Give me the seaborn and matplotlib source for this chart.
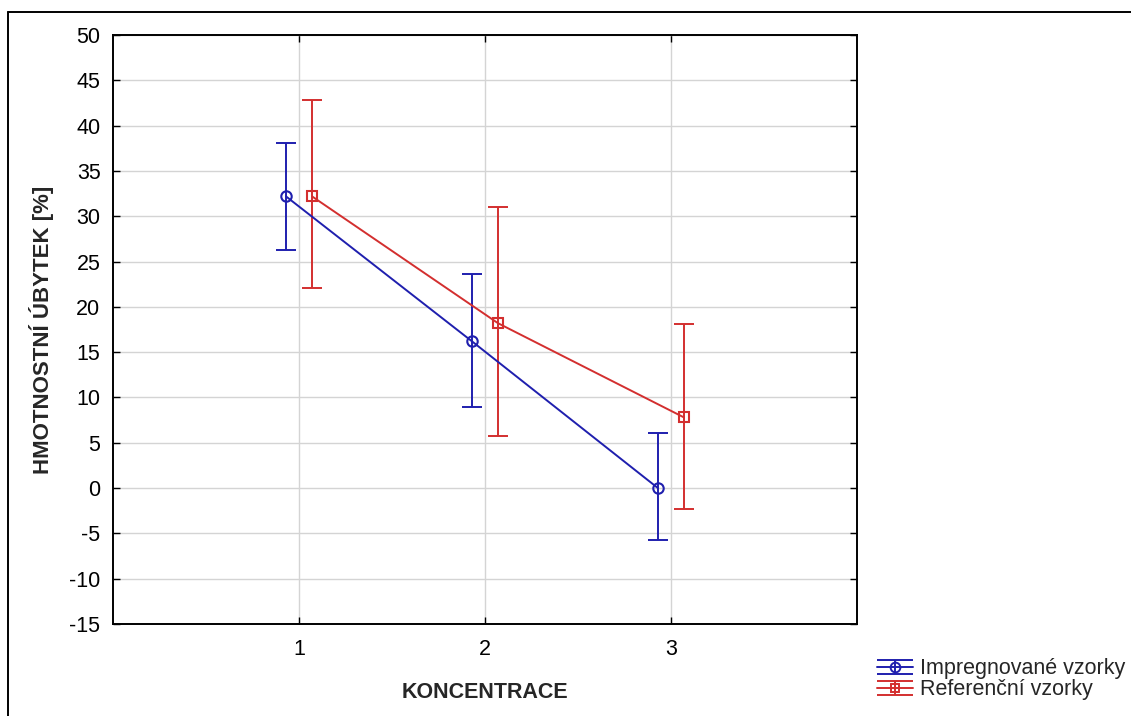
import numpy as np
import pandas as pd
import matplotlib
matplotlib.use('Agg')
import matplotlib.pyplot as plt
import seaborn as sns
from matplotlib.lines import Line2D
from matplotlib.legend_handler import HandlerErrorbar

# Values
koncentrace = [1, 2, 3]
impregnovane_mean = [32.2, 16.2, 0.0]
impregnovane_low = [26.3, 8.9, -5.7]
impregnovane_high = [38.1, 23.6, 6.1]
referencni_mean = [32.2, 18.2, 7.8]
referencni_low = [22.1, 5.7, -2.3]
referencni_high = [42.8, 31.0, 18.1]
series_names = ['Impregnované vzorky', 'Referenční vzorky']

sns.set_style('white')
plt.rcParams['font.family'] = ['Liberation Sans', 'DejaVu Sans']
plt.rcParams['axes.unicode_minus'] = False

blue = '#1f1fae'
red = '#d32f2f'
offset = 0.07

df = pd.DataFrame({
    'x': np.concatenate([np.array(koncentrace) - offset, np.array(koncentrace) + offset]),
    'y': impregnovane_mean + referencni_mean,
    'low': impregnovane_low + referencni_low,
    'high': impregnovane_high + referencni_high,
    'skupina': [series_names[0]] * 3 + [series_names[1]] * 3,
})

fig = plt.figure(figsize=(11.31, 7.16), dpi=100)
ax = fig.add_axes([0.0999, 0.1285, 0.6578, 0.8225])

ax.grid(True, color='#d4d4d4', linewidth=1.0)
ax.set_axisbelow(True)

handles = []
for name, color, marker, ms in [(series_names[0], blue, 'o', 7.5), (series_names[1], red, 's', 6.5)]:
    d = df[df['skupina'] == name]
    sns.lineplot(data=d, x='x', y='y', color=color, marker=marker, markersize=ms,
                 markerfacecolor='none', markeredgecolor=color, markeredgewidth=1.5,
                 linewidth=1.4, ax=ax, legend=False, zorder=3)
    err = np.vstack([d['y'] - d['low'], d['high'] - d['y']])
    ax.errorbar(d['x'], d['y'], yerr=err, fmt='none', ecolor=color,
                elinewidth=1.4, capsize=7, capthick=1.4, zorder=2)
    # legend glyph only (no data drawn)
    h = ax.errorbar([np.nan], [np.nan], yerr=[[1], [1]], fmt='-', color=color, marker=marker,
                    markersize=ms - 0.5, markerfacecolor='none', markeredgewidth=1.4,
                    linewidth=1.4, elinewidth=1.4, capsize=13, capthick=1.4)
    handles.append(h)

ax.set_xlim(0, 4)
ax.set_ylim(-15, 50)
ax.set_xticks(koncentrace)
ax.set_yticks(np.arange(-15, 51, 5))
ax.tick_params(direction='in', length=5, width=1, labelsize=15.5, colors='black',
               top=True, right=True, bottom=True, left=True)
ax.tick_params(axis='y', pad=9)
ax.tick_params(axis='x', pad=11)
for s in ax.spines.values():
    s.set_color('black')
    s.set_linewidth(1.4)

ax.set_xlabel('KONCENTRACE', fontsize=15.5, fontweight='bold', labelpad=16)
ax.set_ylabel('HMOTNOSTNÍ ÚBYTEK [%]', fontsize=16, fontweight='bold', labelpad=11)

fig.legend(handles, series_names, handler_map={type(handles[0]): HandlerErrorbar(yerr_size=0.33)},
           loc='lower left', bbox_to_anchor=(877 / 1131, 0.022), frameon=False,
           fontsize=15.5, handlelength=1.65, handletextpad=0.35, labelspacing=0.0,
           borderaxespad=0.0, borderpad=0.0)

# outer frame (top and left edges visible in the reference)
fig.add_artist(Line2D([8 / 1131, 1.0], [1 - 12 / 716, 1 - 12 / 716], color='black', linewidth=1.4))
fig.add_artist(Line2D([8 / 1131, 8 / 1131], [0.0, 1 - 12 / 716], color='black', linewidth=1.4))

fig.savefig('out.png', dpi=100)
